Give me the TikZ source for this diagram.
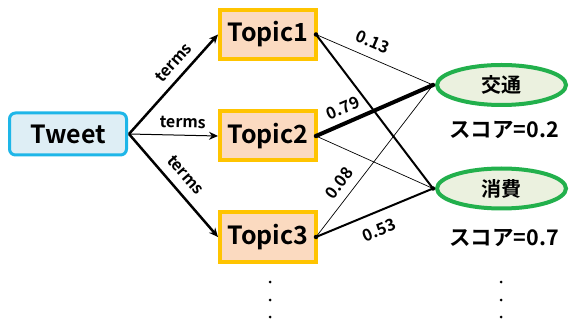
\documentclass[tikz,border=0pt]{standalone}
\usepackage{fontspec}
\setmainfont{Noto Sans CJK JP}[BoldFont={* Bold}]
\usetikzlibrary{shapes.geometric,arrows.meta}
\definecolor{twb}{HTML}{1EB6E8}
\definecolor{twf}{HTML}{DEEEF5}
\definecolor{tpb}{HTML}{FFC400}
\definecolor{tpf}{HTML}{FBDAC0}
\definecolor{elb}{HTML}{22B04C}
\definecolor{elf}{HTML}{EBF1DF}
\tikzset{
  tweetbox/.style={draw=twb,fill=twf,line width=3pt,rounded corners=6pt,minimum width=117pt,minimum height=42pt,inner sep=0pt,font=\bfseries\fontsize{25}{28}\selectfont},
  topicbox/.style={draw=tpb,fill=tpf,line width=4pt,minimum width=96pt,minimum height=49pt,inner sep=0pt,font=\bfseries\fontsize{25}{28}\selectfont},
  catell/.style={ellipse,draw=elb,fill=elf,line width=4pt,minimum width=129pt,minimum height=40pt,inner sep=0pt,font=\bfseries\fontsize{20}{23}\selectfont},
  scorelbl/.style={font=\bfseries\fontsize{21.5}{24}\selectfont,inner sep=0pt},
  termlbl/.style={font=\bfseries\fontsize{16}{18}\selectfont,sloped,inner sep=0pt,outer sep=0pt},
  wlbl/.style={font=\bfseries\fontsize{16.5}{18}\selectfont,sloped,inner sep=0pt,outer sep=0pt},
  tarrow/.style={-{Stealth[length=9pt,width=8pt]}},
  dotc/.style={circle,fill=black,inner sep=0pt,minimum size=4.5pt},
  vdot/.style={circle,fill=black,inner sep=0pt,minimum size=3pt},
}
\begin{document}
\begin{tikzpicture}[x=1pt,y=-1pt]
\useasboundingbox (0,0) rectangle (570,323);
\node[tweetbox] (tw) at (68,134) {Tweet};
\node[topicbox] (t1) at (268,34.5) {Topic1};
\node[topicbox] (t2) at (268,136) {Topic2};
\node[topicbox] (t3) at (268,237) {Topic3};
\node[catell] (c1) at (501.5,85) {交通};
\node[catell] (c2) at (501.5,188.5) {消費};
\node[scorelbl] (s1) at (504,130) {スコア=0.2};
\node[scorelbl] (s2) at (504,238) {スコア=0.7};
% tweet arrows
\coordinate (tws) at ([xshift=1pt]tw.east);
\draw[tarrow,line width=2.5pt] (tws) -- (t1.west) node[termlbl,pos=0.62,above=8.4pt] {terms};
\draw[tarrow,line width=1pt] (tws) -- (t2.west) node[termlbl,pos=0.6,above=7pt] {terms};
\draw[tarrow,line width=2.5pt] (tws) -- (t3.west) node[termlbl,pos=0.5,above=10.6pt] {terms};
% topic to category
\coordinate (p1) at ([xshift=-2pt]t1.east);
\coordinate (p2) at ([xshift=-2pt]t2.east);
\coordinate (p3) at ([xshift=-2pt]t3.east);
\coordinate (q1) at ([xshift=-2pt]c1.west);
\coordinate (q2) at ([xshift=-2pt]c2.west);
\draw[line width=0.7pt] (p1) -- (q1) node[wlbl,pos=0.43,above=9.4pt] {0.13};
\draw[line width=2pt] (p1) -- (q2);
\draw[line width=4pt] (p2) -- (q1) node[wlbl,pos=0.284,above=8.7pt] {0.79};
\draw[line width=0.7pt] (p2) -- (q2);
\draw[line width=0.7pt] (p3) -- (q1) node[wlbl,pos=0.297,above=8.4pt] {0.08};
\draw[line width=2pt] (p3) -- (q2) node[wlbl,pos=0.48,below=11.5pt] {0.53};
\foreach \p in {p1,p2,p3,q1,q2} \node[dotc] at (\p) {};
% vertical dots
\foreach \y [count=\i] in {282,300,317} {
  \node[vdot] (la\i) at (270,\y) {};
  \node[vdot] (ra\i) at (501,\y) {};
}
\end{tikzpicture}
\end{document}
